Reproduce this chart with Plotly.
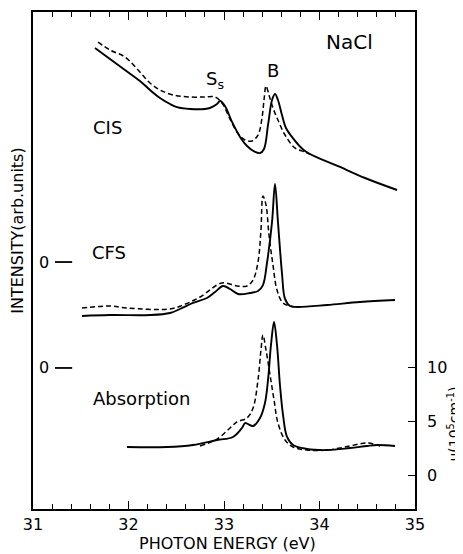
import plotly.graph_objects as go

# ---- data (photon energy in eV, vertical position in right-axis units, curves offset) ----
cis_solid_e = [31.649, 31.806, 31.963, 32.120, 32.225, 32.330, 32.435, 32.508, 32.644, 32.801,
               32.853, 32.927, 32.958, 33.010, 33.084, 33.168, 33.241, 33.325, 33.377, 33.419,
               33.461, 33.503, 33.534, 33.565, 33.607, 33.649, 33.712, 33.848, 34.215, 34.476, 34.812]
cis_solid_v = [39.54, 38.52, 37.50, 36.48, 35.65, 34.91, 34.35, 34.07, 33.89, 33.89,
               33.98, 34.35, 34.63, 34.17, 32.69, 31.30, 30.46, 29.91, 29.81, 30.19,
               32.41, 34.72, 35.28, 34.72, 33.33, 32.13, 31.30, 30.00, 28.52, 27.50, 26.39]

cis_dash_e = [31.681, 31.806, 31.963, 32.120, 32.225, 32.330, 32.466, 32.644, 32.801, 32.906,
              32.979, 33.063, 33.136, 33.220, 33.293, 33.356, 33.398, 33.419, 33.440, 33.471,
              33.513, 33.565, 33.639, 33.743, 33.848, 33.900]
cis_dash_v = [40.09, 39.35, 38.70, 37.31, 36.30, 35.65, 35.19, 35.00, 35.00, 35.00,
              34.44, 32.96, 31.76, 31.02, 30.93, 31.48, 33.06, 34.72, 36.02, 35.19,
              33.98, 32.87, 31.48, 30.28, 29.91, 29.70]

cfs_solid_e = [31.513, 31.806, 32.225, 32.435, 32.539, 32.675, 32.822, 32.906, 32.990, 33.063,
               33.147, 33.272, 33.356, 33.408, 33.450, 33.503, 33.534, 33.565, 33.607, 33.639,
               33.691, 33.764, 34.079, 34.424, 34.791]
cfs_solid_v = [14.72, 14.81, 14.81, 15.00, 15.37, 15.93, 16.39, 16.94, 17.50, 17.22,
               16.76, 16.85, 17.04, 17.59, 19.63, 23.43, 26.94, 23.43, 18.70, 16.30,
               15.65, 15.56, 15.74, 16.02, 16.20]

cfs_dash_e = [31.513, 31.806, 31.984, 32.435, 32.571, 32.749, 32.979, 33.136, 33.241, 33.304,
              33.356, 33.387, 33.408, 33.440, 33.471, 33.513, 33.555, 33.618, 33.743]
cfs_dash_v = [15.46, 15.65, 15.46, 15.37, 15.74, 16.48, 17.78, 17.50, 17.50, 18.06,
              19.72, 22.69, 25.83, 25.00, 22.22, 19.44, 17.13, 15.93, 15.56]

abs_solid_e = [31.984, 32.403, 32.675, 32.927, 33.094, 33.188, 33.220, 33.251, 33.304, 33.377,
               33.429, 33.461, 33.492, 33.524, 33.555, 33.586, 33.618, 33.660, 33.723, 33.869,
               34.079, 34.319, 34.497, 34.602, 34.791]
abs_solid_v = [2.59, 2.59, 2.78, 3.24, 3.52, 4.35, 4.81, 4.72, 4.54, 5.28,
               6.67, 8.80, 12.04, 14.17, 12.04, 8.33, 5.56, 3.52, 2.78, 2.41,
               2.31, 2.50, 2.69, 2.78, 2.69]

abs_dash_e = [32.749, 32.927, 33.063, 33.136, 33.241, 33.304, 33.356, 33.387, 33.408, 33.440,
              33.482, 33.524, 33.565, 33.639, 33.723, 33.869, 34.079, 34.267, 34.497, 34.634]
abs_dash_v = [2.69, 3.33, 4.35, 4.91, 5.28, 6.20, 8.80, 11.57, 12.96, 11.57,
              9.26, 6.94, 4.81, 3.24, 2.59, 2.31, 2.31, 2.59, 2.96, 2.69]

mu_ticks = [0, 5, 10]
mu_tick_labels = ["0", "5", "10"]
x_ticks = [31, 32, 33, 34, 35]
zero_levels = [19.72, 9.91]

curve_labels = ["CIS", "CFS", "Absorption"]
label_e = [31.785, 31.796, 32.141]
label_v = [32.2, 20.56, 7.13]

FONT = "DejaVu Sans"
fig = go.Figure()

solid = dict(color="black", width=1.9)
dashed = dict(color="black", width=1.5, dash="5px,3px")
for e, v in [(cis_dash_e, cis_dash_v), (cfs_dash_e, cfs_dash_v), (abs_dash_e, abs_dash_v)]:
    fig.add_trace(go.Scatter(x=e, y=v, mode="lines", line=dashed, line_shape="spline", hoverinfo="skip"))
for e, v in [(cis_solid_e, cis_solid_v), (cfs_solid_e, cfs_solid_v), (abs_solid_e, abs_solid_v)]:
    fig.add_trace(go.Scatter(x=e, y=v, mode="lines", line=solid, line_shape="spline", hoverinfo="skip"))

annotations = []
for t, e, v in zip(curve_labels, label_e, label_v):
    annotations.append(dict(x=e, y=v, text=t, showarrow=False, font=dict(family=FONT, size=18, color="black"),
                            xanchor="center", yanchor="middle"))
annotations.append(dict(x=32.906, y=36.6, text="S<sub>s</sub>", showarrow=False,
                        font=dict(family=FONT, size=18, color="black")))
annotations.append(dict(x=33.513, y=37.5, text="B", showarrow=False,
                        font=dict(family=FONT, size=18, color="black")))
annotations.append(dict(x=34.319, y=40.09, text="NaCl", showarrow=False,
                        font=dict(family=FONT, size=20, color="black")))
shapes = []
for z in zero_levels:
    annotations.append(dict(x=31.115, y=z, text="0", showarrow=False,
                            font=dict(family=FONT, size=16, color="black")))
    shapes.append(dict(type="line", xref="x", yref="y", x0=31.23, x1=31.41, y0=z, y1=z,
                       line=dict(color="black", width=1.8)))

annotations.append(dict(xref="paper", yref="paper", x=-0.0405, y=0.559, text="INTENSITY(arb.units)",
                        textangle=-90, showarrow=False, xanchor="center", yanchor="middle",
                        font=dict(family=FONT, size=16, color="black")))
annotations.append(dict(xref="paper", yref="paper", x=1.101, y=0.171,
                        text="μ(10<sup>5</sup>cm<sup>-1</sup>)",
                        textangle=-90, showarrow=False, xanchor="center", yanchor="middle",
                        font=dict(family=FONT, size=14, color="black")))
annotations.append(dict(xref="paper", yref="paper", x=0.51, y=-0.0704,
                        text="PHOTON ENERGY (eV)", showarrow=False, xanchor="center", yanchor="middle",
                        font=dict(family=FONT, size=16, color="black")))

fig.update_layout(
    width=455, height=546,
    margin=dict(l=25, r=48, t=4, b=45, autoexpand=False),
    paper_bgcolor="white", plot_bgcolor="white",
    showlegend=False,
    annotations=annotations, shapes=shapes,
    xaxis=dict(range=[31, 35], tickvals=x_ticks, ticks="inside", ticklen=8, tickwidth=1.3,
               showline=True, linecolor="black", linewidth=1.8, mirror="allticks",
               showgrid=False, zeroline=False,
               minor=dict(dtick=0.2, ticks="inside", ticklen=5, tickwidth=1.2, tickcolor="black", showgrid=False),
               tickcolor="black", ticklabelstandoff=0,
               tickfont=dict(family=FONT, size=16, color="black")),
    yaxis=dict(range=[-3.148, 42.87], side="right", tickvals=mu_ticks, ticktext=mu_tick_labels,
               ticks="inside", ticklen=7, tickwidth=1.3, tickcolor="black",
               showline=True, linecolor="black", linewidth=1.8, mirror=True,
               showgrid=False, zeroline=False, ticklabelstandoff=7,
               tickfont=dict(family=FONT, size=16, color="black")),
)

fig.write_html("out.html")
